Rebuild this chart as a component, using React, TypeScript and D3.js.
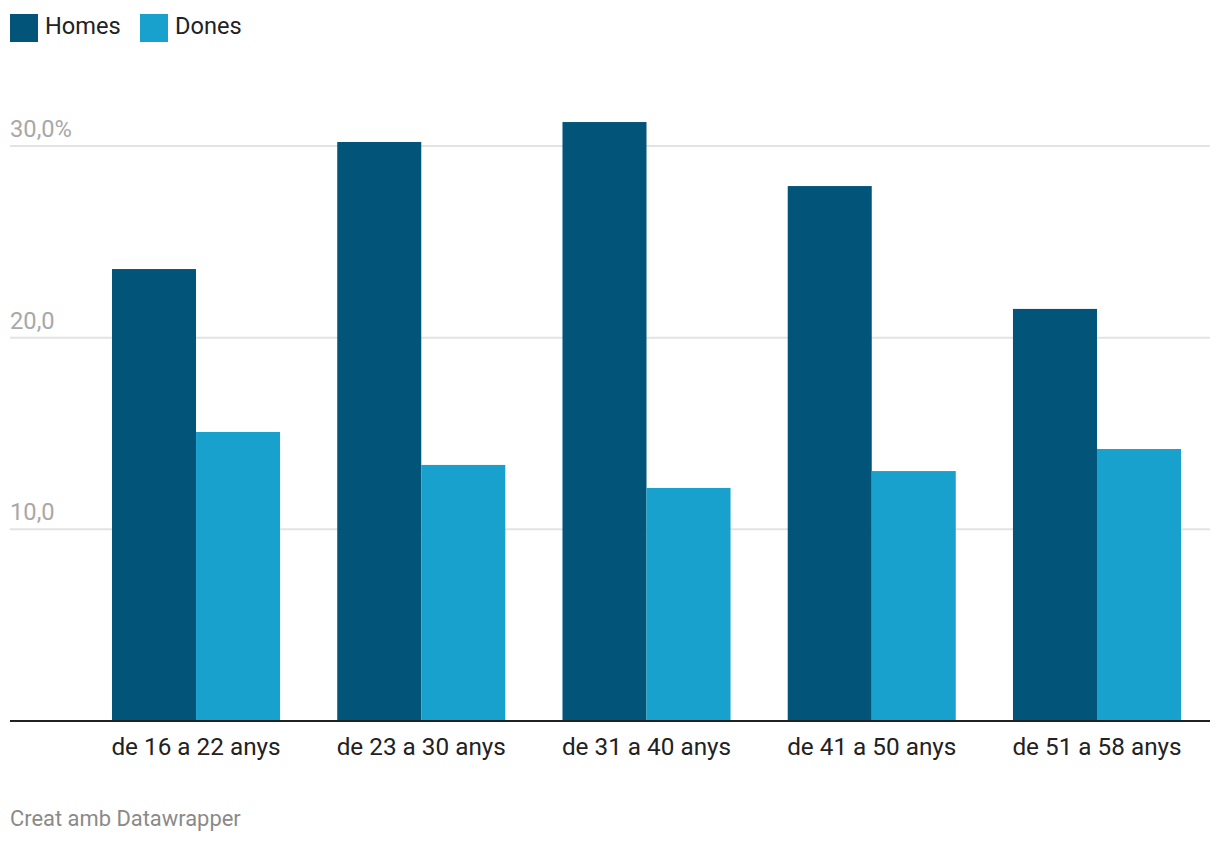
import React from "react";
import * as d3 from "d3";

const categories = ["de 16 a 22 anys", "de 23 a 30 anys", "de 31 a 40 anys", "de 41 a 50 anys", "de 51 a 58 anys"];
const seriesNames = ["Homes", "Dones"];
const homes = [23.58, 30.21, 31.25, 27.91, 21.5];
const dones = [15.08, 13.36, 12.16, 13.04, 14.19];
const yTicks = [10, 20, 30];
const colors = ["#025479", "#19a1cd"];

const W = 1220;
const H = 844;
const FONT = "Roboto, 'Noto Sans', sans-serif";

export default function App() {
  const x0 = d3.scaleBand<string>().domain(categories).range([112, 1181]).paddingInner(0.254).paddingOuter(0);
  const x1 = d3.scaleBand<string>().domain(seriesNames).range([0, x0.bandwidth()]).padding(0);
  const y = d3.scaleLinear().domain([0, 30]).range([721, 146]);
  const fmt = (v: number, i: number, n: number) =>
    d3.format(".1f")(v).replace(".", ",") + (i === n - 1 ? "%" : "");
  const series = [homes, dones];

  return (
    <svg width={W} height={H} style={{ position: "absolute", left: 0, top: 0, background: "#fff" }} fontFamily={FONT}>
      <rect width={W} height={H} fill="#fff" />
      {/* legend */}
      {seriesNames.map((s, i) => {
        const lx = [10, 140][i];
        return (
          <g key={s}>
            <rect x={lx} y={14} width={28} height={28} fill={colors[i]} />
            <text x={lx + 35} y={34} fontSize={23.6} fill="#222">{s}</text>
          </g>
        );
      })}
      {/* gridlines */}
      {yTicks.map((t, i) => (
        <g key={t}>
          <line x1={10} x2={1210} y1={y(t)} y2={y(t)} stroke="#e3e3e3" strokeWidth={2} />
          <text x={10} y={y(t) - 9} fontSize={23.7} fill="#a8a8a8">{fmt(t, i, yTicks.length)}</text>
        </g>
      ))}
      {/* bars */}
      {categories.map((c, ci) => (
        <g key={c} transform={`translate(${x0(c)},0)`}>
          {seriesNames.map((s, si) => {
            const v = series[si][ci];
            return (
              <rect key={s} x={x1(s)} y={y(v)} width={x1.bandwidth()} height={y(0) - y(v)} fill={colors[si]} />
            );
          })}
          <text x={x0.bandwidth() / 2} y={755} fontSize={24.3} fill="#222" textAnchor="middle">{c}</text>
        </g>
      ))}
      <line x1={10} x2={1210} y1={y(0)} y2={y(0)} stroke="#222" strokeWidth={2} />
      <text x={10} y={826} fontSize={21.9} fill="#8a8a8a">Creat amb Datawrapper</text>
    </svg>
  );
}
